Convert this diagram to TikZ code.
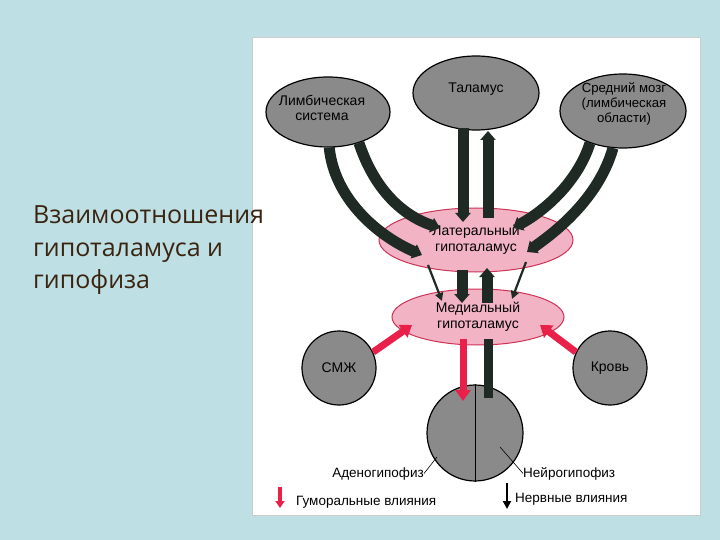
\documentclass[tikz,border=0pt]{standalone}
\usepackage{fontspec}
\setmainfont{Liberation Sans}
\newfontfamily\titlefont{Open Sans}
\usetikzlibrary{shapes.geometric,arrows.meta,calc}
\definecolor{slidebg}{HTML}{BEDFE3}
\definecolor{titlecol}{HTML}{3A2410}
\definecolor{greyfill}{HTML}{8A8A8A}
\definecolor{bandcol}{HTML}{1F2A24}
\definecolor{pinkfill}{HTML}{F2B3C5}
\definecolor{pinkedge}{HTML}{CC3355}
\definecolor{redarrow}{HTML}{E8204A}
\tikzset{
  greyell/.style={ellipse, draw=black, line width=1.2pt, fill=greyfill, align=center, font=\fontsize{14}{15.5}\selectfont, inner sep=0pt},
  pinkell/.style={ellipse, draw=pinkedge, line width=1pt, fill=pinkfill, align=center, font=\fontsize{14}{15.5}\selectfont, inner sep=0pt},
  greycirc/.style={circle, draw=black, line width=1.2pt, fill=greyfill, font=\fontsize{14}{16}\selectfont, inner sep=0pt},
  band/.style={draw=bandcol, line width=11pt, -{Triangle[width=15pt,length=9pt]}},
  thinarrow/.style={draw=bandcol, line width=2.2pt, -{Triangle[width=8pt,length=8pt]}},
  redband/.style={draw=redarrow, line width=7pt, -{Triangle[width=15pt,length=11pt]}},
  lbl/.style={font=\fontsize{13.5}{16}\selectfont, inner sep=0pt},
  elltext/.style={font=\fontsize{14}{15.5}\selectfont, align=center, inner sep=0pt},
  titletext/.style={font=\titlefont\fontsize{25}{30}\selectfont, text=titlecol, anchor=base west, inner sep=0pt}
}
\begin{document}
\begin{tikzpicture}[x=1pt,y=-1pt]
\useasboundingbox (0,0) rectangle (720,540);
\fill[slidebg] (0,0) rectangle (720,540);
\node[draw=gray!40, fill=white, minimum width=448pt, minimum height=478pt, anchor=north west, inner sep=0pt] (panel) at (252,37) {};
% hypothalamus
\node[pinkell, minimum width=194pt, minimum height=64pt] (lat) at (476,240) {Латеральный\\гипоталамус};
\node[pinkell, minimum width=172pt, minimum height=56pt] (med) at (478,317) {Медиальный\\гипоталамус};
% top ellipses
\node[greyell, minimum width=124pt, minimum height=70pt] (limb) at (328,112) {};
\node[elltext] (limbt) at (322,108) {Лимбическая\\система};
\node[greyell, minimum width=126pt, minimum height=74pt] (thal) at (476,93) {};
\node[elltext] (thalt) at (476,89) {Таламус};
\node[greyell, minimum width=126pt, minimum height=74pt] (midb) at (623,111) {};
\node[elltext, font=\fontsize{13.2}{15}\selectfont] (midbt) at (624,104) {Средний мозг\\(лимбическая\\области)};
% side circles and pituitary
\node[greycirc, minimum size=74pt] (csf) at (339,368) {СМЖ};
\node[greycirc, minimum size=74pt] (blood) at (610,368) {Кровь};
\node[greycirc, minimum size=96pt] (pit) at (475,433) {};
\draw[line width=0.8pt] (pit.north) -- (pit.south);
% bands from limbic system
\draw[band] (limb.-88) .. controls ($(limb.-88)+(5,50)$) and ($(lat.center)+(-100,-5)$) .. ($(lat.center)+(-54,15)$);
\draw[band] (limb.-45) .. controls ($(limb.-45)+(15,45)$) and ($(lat.center)+(-75,-25)$) .. ($(lat.center)+(-36,-12)$);
\draw[thinarrow] ($(lat.center)+(-48,25)$) -- ($(med.center)+(-36,-16)$);
% bands from thalamus
\draw[band] ($(thal.center)+(-13,35)$) -- ($(lat.center)+(-13,-18)$);
\draw[band] ($(lat.center)+(12,-22)$) -- ($(thal.center)+(12,38)$);
% bands from midbrain
\draw[band] ($(midb.center)+(-33,32)$) .. controls ($(midb.center)+(-45,70)$) and ($(lat.center)+(70,-30)$) .. ($(lat.center)+(37,-12)$);
\draw[band] ($(midb.center)+(-10,37)$) .. controls ($(midb.center)+(-25,90)$) and ($(lat.center)+(75,-5)$) .. ($(lat.center)+(51,12)$);
\draw[thinarrow] ($(lat.center)+(50,22)$) -- ($(med.center)+(34,-18)$);
% between hypothalamic nuclei
\draw[band] ($(lat.center)+(-14,30)$) -- ($(med.center)+(-16,-14)$);
\draw[band] ($(med.center)+(9,-14)$) -- ($(lat.center)+(11,28)$);
% humoral inputs
\draw[redband] (csf.25) -- ($(med.center)+(-66,8)$);
\draw[redband] (blood.155) -- ($(med.center)+(62,8)$);
\draw[redband] ($(med.center)+(-15,22)$) -- ($(pit.center)+(-12,-32)$);
\draw[draw=bandcol, line width=9pt] ($(med.center)+(10,22)$) -- ($(pit.center)+(13,-35)$);
% pituitary labels
\node[lbl, anchor=base east] (adeno) at (424,477) {Аденогипофиз};
\node[lbl, anchor=base west] (neuro) at (523,477) {Нейрогипофиз};
\draw[line width=0.6pt] (adeno.east) -- ($(pit.center)+(-38,24)$);
\draw[line width=0.6pt] (neuro.west) -- ($(pit.center)+(25,14)$);
% legend
\coordinate (lr1) at (280,487);
\coordinate (lr2) at (280,508);
\draw[draw=redarrow, line width=4pt, -{Triangle[width=9pt,length=7pt]}] (lr1) -- (lr2);
\node[lbl, anchor=base west] (hum) at (296,505) {Гуморальные влияния};
\coordinate (lb1) at (507,483);
\coordinate (lb2) at (507,509);
\draw[draw=black, line width=2pt, -{Triangle[width=8pt,length=8pt]}] (lb1) -- (lb2);
\node[lbl, anchor=base west] (nerv) at (515,502) {Нервные влияния};
% title
\node[titletext] (t1) at (33,224) {Взаимоотношения};
\node[titletext] (t2) at (33,256) {гипоталамуса и};
\node[titletext] (t3) at (33,288) {гипофиза};
\end{tikzpicture}
\end{document}
